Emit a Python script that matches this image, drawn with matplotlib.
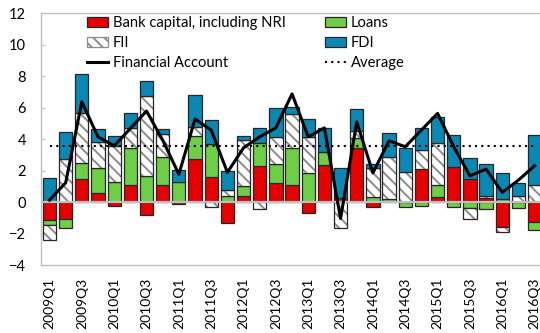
import numpy as np
import matplotlib
matplotlib.use("Agg")
import matplotlib.pyplot as plt
import matplotlib.patches as mpatches
from matplotlib.lines import Line2D

plt.rcParams["font.family"] = ["Lato", "DejaVu Sans"]
plt.rcParams["hatch.linewidth"] = 1.4

# Quarterly capital flows, % of GDP
QUARTERS = [f"{y}Q{q}" for y in range(2009, 2017) for q in range(1, 5)][:31]

BANK_CAPITAL = [-1.15, -1.10, 1.44, 0.55, -0.23, 1.08, -0.83, 1.12, -0.13, 2.75,
                1.61, -1.32, 0.38, 2.29, 1.23, 1.12, -0.72, 2.33, 0.25, 3.41,
                -0.34, 0.00, 0.00, 2.08, 0.30, 2.25, 1.46, 0.24, -1.60, 0.00, -1.25]
LOANS = [-0.33, -0.53, 1.02, 1.63, 1.25, 2.37, 1.67, 1.72, 1.29, 1.45,
         2.06, 0.36, 0.64, 1.48, 1.17, 2.33, 1.82, 0.85, 0.00, 0.64,
         0.30, 0.23, -0.34, -0.25, 0.82, -0.34, -0.40, -0.45, 0.23, -0.36, -0.49]
FII = [-0.95, 2.73, 3.22, 1.65, 2.31, 1.27, 5.09, 1.46, 0.00, 0.55,
       -0.30, 0.42, 2.92, -0.45, 1.75, 2.13, 2.29, 0.00, -1.63, 0.48,
       1.84, 2.61, 1.93, 1.23, 2.61, 0.00, -0.70, 0.14, -0.33, 0.38, 1.12]
FDI = [1.55, 1.70, 2.46, 0.81, 0.64, 0.96, 0.95, 0.32, 0.74, 2.05,
       1.54, 1.20, 0.26, 0.95, 1.85, 0.48, 1.17, 1.50, 1.89, 1.36,
       0.26, 1.57, 1.52, 1.37, 1.69, 2.01, 1.36, 2.02, 1.62, 0.81, 3.14]
FINANCIAL_ACCOUNT = [0.13, 1.23, 6.38, 4.15, 3.58, 4.68, 5.79, 3.94, 1.77, 5.28,
                     4.58, 1.89, 3.45, 4.15, 4.72, 6.88, 4.15, 4.72, -1.04, 5.10,
                     1.86, 3.90, 3.52, 4.58, 5.64, 3.52, 1.67, 2.10, 0.62, 1.40, 2.31]
AVERAGE = 3.55

RED = "#E60000"
GREEN = "#6CCF45"
BLUE = "#0A88B4"
EDGE = "#262626"
GRID_GRAY = "#bfbfbf"
BAR_WIDTH = 0.82

fig = plt.figure(figsize=(5.4, 3.33), dpi=100)
ax = fig.add_axes([0.0767, 0.204, 0.9283, 0.756])

x = np.arange(len(QUARTERS))
pos_base = np.zeros(len(x))
neg_base = np.zeros(len(x))

series = [
    ("Bank capital, including NRI", BANK_CAPITAL, RED, None),
    ("Loans", LOANS, GREEN, None),
    ("FII", FII, "white", "\\\\\\"),
    ("FDI", FDI, BLUE, None),
]

# positives stack up from zero, negatives stack down, same component order
for name, vals, color, hatch in series:
    vals = np.asarray(vals)
    pos = np.where(vals > 0, vals, 0.0)
    neg = np.where(vals < 0, vals, 0.0)
    for part, base in ((pos, pos_base), (neg, neg_base)):
        m = part != 0
        if hatch:
            ax.bar(x[m], part[m], bottom=base[m], width=BAR_WIDTH, color="white",
                   edgecolor="#8c8c8c", hatch=hatch, linewidth=0, zorder=2)
            ax.bar(x[m], part[m], bottom=base[m], width=BAR_WIDTH, facecolor="none",
                   edgecolor=EDGE, linewidth=0.9, zorder=2)
        else:
            ax.bar(x[m], part[m], bottom=base[m], width=BAR_WIDTH, color=color,
                   edgecolor=EDGE, linewidth=0.9, zorder=2)
    pos_base += pos
    neg_base += neg

ax.axhline(0, color=GRID_GRAY, lw=1.6, zorder=2.5)
ax.plot(x, FINANCIAL_ACCOUNT, color="black", lw=2.2, zorder=4)
ax.plot(x, [AVERAGE] * len(x), color="black", lw=1.5, ls=(0, (1, 2)), zorder=4)

ax.set_xlim(-0.5, len(x) - 0.5)
ax.set_ylim(-4, 12)
ax.set_yticks(range(-4, 13, 2))
ax.set_xticks(x[::2])
ax.set_xticklabels(QUARTERS[::2], rotation=90)
ax.tick_params(axis="y", direction="in", length=3, color=GRID_GRAY, labelsize=10.5, pad=11)
ax.tick_params(axis="x", length=0, labelsize=10, pad=9)
for spine in ax.spines.values():
    spine.set_color(GRID_GRAY)
    spine.set_linewidth(1.0)

leg_kw = dict(frameon=False, loc="upper left", fontsize=10.6, handlelength=1.45,
              handleheight=0.7, handletextpad=0.3, labelspacing=0.42,
              borderpad=0, borderaxespad=0)
left_handles = [
    mpatches.Patch(facecolor=RED, edgecolor=EDGE, lw=0.9, label="Bank capital, including NRI"),
    mpatches.Patch(facecolor="white", edgecolor="#8c8c8c", hatch="\\\\\\", lw=0.9, label="FII"),
    Line2D([], [], color="black", lw=2.2, label="Financial Account"),
]
right_handles = [
    mpatches.Patch(facecolor=GREEN, edgecolor=EDGE, lw=0.9, label="Loans"),
    mpatches.Patch(facecolor=BLUE, edgecolor=EDGE, lw=0.9, label="FDI"),
    Line2D([], [], color="black", lw=1.5, ls=(0, (1, 2)), label="Average"),
]
leg1 = ax.legend(handles=left_handles, bbox_to_anchor=(0.091, 0.99), **leg_kw)
ax.add_artist(leg1)
ax.legend(handles=right_handles, bbox_to_anchor=(0.566, 0.99), **leg_kw)

fig.savefig("out.png", dpi=100)
